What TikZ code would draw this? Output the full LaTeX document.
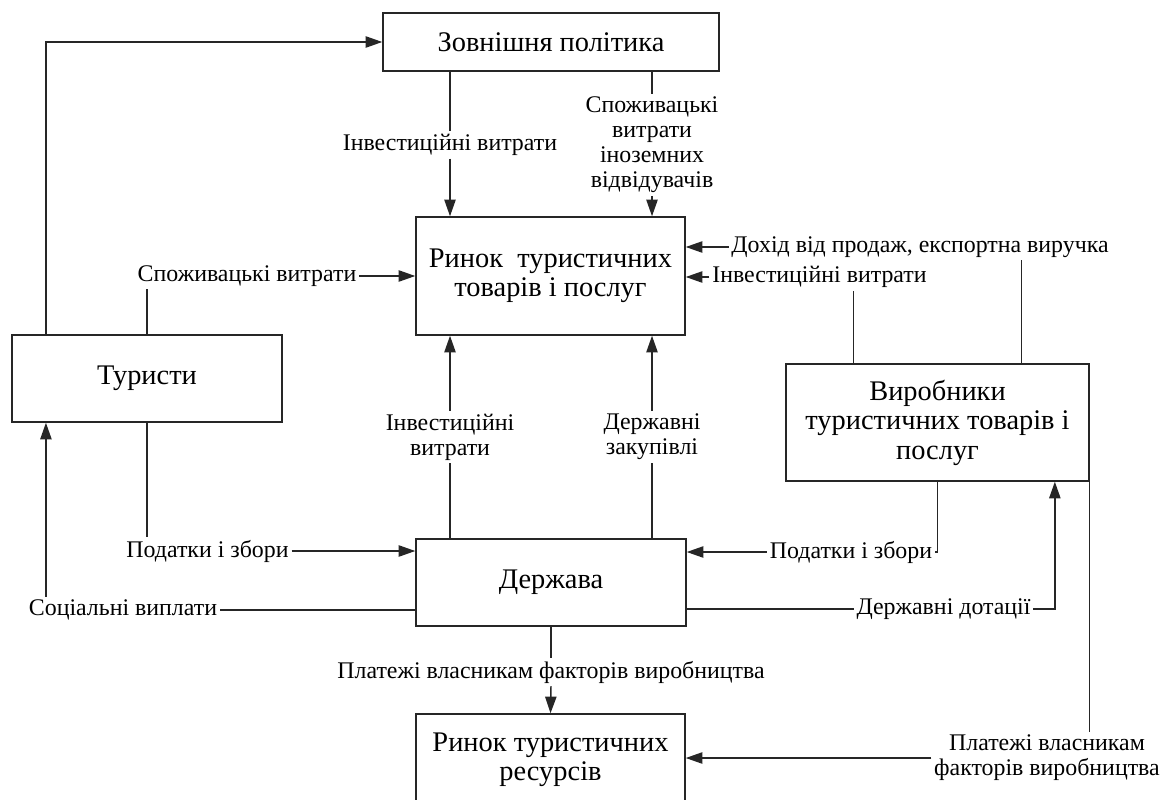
\documentclass[tikz,border=0pt]{standalone}
\usepackage{fontspec}
\setmainfont{Liberation Serif}
\usetikzlibrary{arrows.meta}

\newcommand{\bxfont}{\fontsize{21.3}{22.1}\selectfont}
\newcommand{\lbfont}{\fontsize{17.9}{18.75}\selectfont}

\tikzset{
  box/.style={draw=black!85, line width=1.1pt, align=center, inner sep=0pt, font=\bxfont},
  lbl/.style={inner sep=2pt, align=center, font=\lbfont},
  ln/.style={draw=black!85, line width=1.1pt},
  arr/.style={ln, -{Triangle[length=12.5pt,width=8.5pt]}}
}

\begin{document}
\begin{tikzpicture}[x=0.75pt,y=0.75pt,yscale=-1,xscale=1]
\useasboundingbox (0,0) rectangle (1173,799);

%Shape: Rectangle [id:zp]
\node [box, minimum width=252pt, minimum height=43.5pt] (zp) at (551,42) {Зовнішня політика};
%Shape: Rectangle [id:rtp]
\node [box, minimum width=201.75pt, minimum height=88.5pt] (rtp) at (550.5,276) {Ринок\ \ туристичних\\товарів і послуг};
%Shape: Rectangle [id:tur]
\node [box, minimum width=202.5pt, minimum height=65.25pt] (tur) at (147,378.5) {Туристи};
%Shape: Rectangle [id:vyr]
\node [box, minimum width=227.25pt, minimum height=87.75pt] (vyr) at (937.5,422.5) {Виробники\\туристичних товарів і\\послуг};
%Shape: Rectangle [id:derzh]
\node [box, minimum width=202.5pt, minimum height=65.25pt] (derzh) at (551,582.5) {Держава};
%Shape: Rectangle [id:rres]
\node [box, minimum width=201.75pt, minimum height=69pt] (rres) at (550.5,760) {Ринок туристичних\\ресурсів};

% Text Node
\node [lbl] (linv1) at (450,145) {Інвестиційні витрати};
% Text Node
\node [lbl] (lspin) at (652,145) {Споживацькі\\витрати\\іноземних\\відвідувачів};
% Text Node
\node [lbl] (lspozh) at (247,276) {Споживацькі витрати};
% Text Node
\node [lbl] (ldoh) at (920,247) {Дохід від продаж, експортна виручка};
% Text Node
\node [lbl] (linv2) at (819.5,277) {Інвестиційні витрати};
% Text Node
\node [lbl] (linv3) at (450,437) {Інвестиційні\\витрати};
% Text Node
\node [lbl] (lzak) at (652,437) {Державні\\закупівлі};
% Text Node
\node [lbl] (lpod1) at (207.5,551) {Податки і збори};
% Text Node
\node [lbl] (lpod2) at (851,552) {Податки і збори};
% Text Node
\node [lbl] (lsoc) at (123,610) {Соціальні виплати};
% Text Node
\node [lbl] (ldot) at (943.5,609) {Державні дотації};
% Text Node
\node [lbl] (lplat1) at (551,672) {Платежі власникам факторів виробництва};
% Text Node
\node [lbl] (lplat2) at (1047,758) {Платежі власникам\\факторів виробництва};

%Straight Lines [id:tur-zp]
\draw [arr] ([xshift=26pt]tur.north west) |- (zp.west);
%Straight Lines [id:zp-rtp]
\draw [ln] (zp.south -| linv1) -- (linv1.north);
\draw [arr] (linv1.south) -- (linv1.south |- rtp.north);
\draw [ln] (zp.south -| lspin) -- (lspin.north);
\draw [arr] (lspin.south) -- (lspin.south |- rtp.north);
%Straight Lines [id:tur-rtp]
\draw [ln] (tur.north) -- (tur.north |- lspozh.south);
\draw [arr] (lspozh.east) -- (rtp.west |- lspozh.east);
%Straight Lines [id:vyr-rtp]
\draw [ln] ([xshift=63pt]vyr.north) -- ([xshift=63pt]vyr.north |- ldoh.south);
\draw [arr] (ldoh.west) -- (rtp.east |- ldoh.west);
\draw [ln] ([xshift=-63pt]vyr.north) -- ([xshift=-63pt]vyr.north |- linv2.south);
\draw [arr] (linv2.west) -- (rtp.east |- linv2.west);
%Straight Lines [id:derzh-rtp]
\draw [ln] (derzh.north -| linv3) -- (linv3.south);
\draw [arr] (linv3.north) -- (linv3.north |- rtp.south);
\draw [ln] (derzh.north -| lzak) -- (lzak.south);
\draw [arr] (lzak.north) -- (lzak.north |- rtp.south);
%Straight Lines [id:tur-derzh]
\draw [ln] (tur.south) -- (tur.south |- lpod1.north);
\draw [arr] (lpod1.east) -- (derzh.west |- lpod1.east);
%Straight Lines [id:derzh-tur]
\draw [ln] (derzh.west |- lsoc.east) -- (lsoc.east);
\draw [arr] ([xshift=26pt]tur.south west |- lsoc.north) -- ([xshift=26pt]tur.south west);
%Straight Lines [id:vyr-derzh]
\draw [ln] (vyr.south) |- (lpod2.east);
\draw [arr] (lpod2.west) -- (derzh.east |- lpod2.west);
%Straight Lines [id:derzh-vyr]
\draw [ln] (derzh.east |- ldot.west) -- (ldot.west);
\draw [arr] (ldot.east) -| ([xshift=88pt]vyr.south);
%Straight Lines [id:derzh-rres]
\draw [ln] (derzh.south) -- (lplat1.north);
\draw [arr] (lplat1.south) -- (rres.north);
%Straight Lines [id:vyr-rres]
\draw [ln] (vyr.south east) -- (vyr.south east |- lplat2.north);
\draw [arr] (lplat2.west) -- (rres.east |- lplat2.west);

\end{tikzpicture}
\end{document}
